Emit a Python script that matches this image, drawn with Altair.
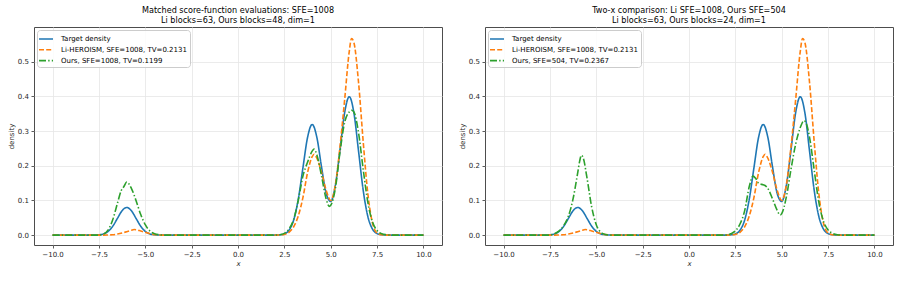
import altair as alt
import pandas as pd

FONT = "DejaVu Sans"

# ---- curve values (x, density) ----
target_x = [-10, -8.25, -8, -7.75, -7.5, -7.25, -7, -6.75, -6.5, -6.25, -6, -5.75, -5.5, -5.25, -5,
            -4.75, -4.5, -4.25, -4, 1.75, 2, 2.25, 2.5, 2.75, 3, 3.25, 3.5, 3.75, 4, 4.25, 4.5, 4.75,
            5, 5.25, 5.5, 5.75, 6, 6.25, 6.5, 6.75, 7, 7.25, 7.5, 7.75, 8, 8.25, 10]
target_y = [0, 0, 0.0000, 0.0002, 0.0009, 0.0035, 0.0108, 0.0259, 0.0484, 0.0704, 0.0798, 0.0704,
            0.0484, 0.0259, 0.0108, 0.0035, 0.0009, 0.0002, 0, 0, 0.0001, 0.0007, 0.0035, 0.0140,
            0.0432, 0.1036, 0.1935, 0.2815, 0.3191, 0.2824, 0.1979, 0.1211, 0.0972, 0.1436, 0.2455,
            0.3528, 0.3991, 0.3521, 0.2420, 0.1296, 0.0540, 0.0175, 0.0044, 0.0009, 0.0001, 0, 0]

li_x = [-10, -7.25, -7, -6.75, -6.5, -6.25, -6, -5.75, -5.6, -5.5, -5.25, -5, -4.75, -4.5, -4.25,
        -4, 2, 2.25, 2.5, 2.75, 3, 3.25, 3.5, 3.75, 4, 4.1, 4.25, 4.5, 4.75, 5, 5.25, 5.5, 5.75, 6,
        6.12, 6.25, 6.5, 6.75, 7, 7.25, 7.5, 7.75, 8, 10]
li_y = [0, 0, 0.0005, 0.001, 0.003, 0.006, 0.010, 0.014, 0.016, 0.0155, 0.012, 0.008, 0.004, 0.0015,
        0.0005, 0, 0, 0.0005, 0.002, 0.008, 0.024, 0.055, 0.108, 0.180, 0.226, 0.233, 0.222, 0.182,
        0.130, 0.100, 0.145, 0.255, 0.390, 0.530, 0.567, 0.555, 0.440, 0.270, 0.120, 0.035, 0.006,
        0.001, 0, 0]

ours48_x = [-10, -7.5, -7.25, -7, -6.75, -6.5, -6.3, -6.15, -6, -5.75, -5.5, -5.25, -5, -4.75, -4.5,
            -4.25, -4, 2, 2.25, 2.5, 2.75, 3, 3.25, 3.5, 3.75, 4, 4.1, 4.25, 4.5, 4.75, 4.92, 5, 5.25,
            5.5, 5.75, 6, 6.12, 6.25, 6.5, 6.75, 7, 7.25, 7.5, 7.75, 8, 8.25, 10]
ours48_y = [0, 0, 0.003, 0.015, 0.045, 0.092, 0.128, 0.140, 0.153, 0.135, 0.100, 0.060, 0.030, 0.012,
            0.004, 0.001, 0, 0, 0.001, 0.005, 0.018, 0.045, 0.100, 0.170, 0.210, 0.242, 0.248, 0.232,
            0.172, 0.105, 0.083, 0.086, 0.135, 0.240, 0.325, 0.355, 0.360, 0.355, 0.295, 0.190, 0.095,
            0.038, 0.013, 0.004, 0.001, 0, 0]

ours24_x = [-10, -7.5, -7.25, -7, -6.75, -6.5, -6.25, -6, -5.9, -5.8, -5.7, -5.5, -5.25, -5, -4.75,
            -4.5, -4.25, 2, 2.25, 2.5, 2.75, 3, 3.25, 3.45, 3.6, 3.75, 4, 4.1, 4.3, 4.5, 4.75, 4.92, 5,
            5.25, 5.5, 5.75, 6, 6.2, 6.35, 6.5, 6.75, 7, 7.25, 7.5, 7.75, 8, 8.25, 10]
ours24_y = [0, 0, 0.004, 0.012, 0.028, 0.055, 0.105, 0.180, 0.212, 0.230, 0.222, 0.165, 0.082, 0.030,
            0.008, 0.002, 0, 0, 0.004, 0.012, 0.032, 0.070, 0.140, 0.170, 0.163, 0.150, 0.145, 0.143,
            0.130, 0.105, 0.072, 0.058, 0.062, 0.110, 0.190, 0.262, 0.310, 0.330, 0.318, 0.282, 0.188,
            0.095, 0.040, 0.015, 0.005, 0.001, 0, 0]

TARGET_LABEL = "Target density"
LI_LABEL = "Li-HEROISM, SFE=1008, TV=0.2131"
OURS48_LABEL = "Ours, SFE=1008, TV=0.1199"
OURS24_LABEL = "Ours, SFE=504, TV=0.2367"

TITLE_LEFT = ["Matched score-function evaluations: SFE=1008", "Li blocks=63, Ours blocks=48, dim=1"]
TITLE_RIGHT = ["Two-x comparison: Li SFE=1008, Ours SFE=504", "Li blocks=63, Ours blocks=24, dim=1"]

x_ticks = [-10.0, -7.5, -5.0, -2.5, 0.0, 2.5, 5.0, 7.5, 10.0]
y_ticks = [0.0, 0.1, 0.2, 0.3, 0.4, 0.5]

COLORS = ["#1f77b4", "#ff7f0e", "#2ca02c"]
DASHES = [[1, 0], [5, 2.2], [7, 2.2, 1.4, 2.2]]

# horizontal legend stroke, longer than the symbol box it is laid out in
LEGEND_STROKE = "M-1.4,0L1.4,0"


def panel(title_lines, ours_label, ours_x, ours_y):
    rows = []
    for name, xs, ys in [(TARGET_LABEL, target_x, target_y),
                         (LI_LABEL, li_x, li_y),
                         (ours_label, ours_x, ours_y)]:
        rows += [{"x": a, "density": b, "series": name} for a, b in zip(xs, ys)]
    df = pd.DataFrame(rows)
    labels = [TARGET_LABEL, LI_LABEL, ours_label]
    legend = alt.Legend(
        title=None, orient="top-left", offset=3, padding=3,
        fillColor="rgba(255,255,255,0.85)", strokeColor="#cccccc", cornerRadius=3,
        symbolType=LEGEND_STROKE, symbolSize=100, symbolStrokeWidth=1.6,
        labelFont=FONT, labelFontSize=7, labelColor="#000000", labelOffset=9,
        rowPadding=0.8,
    )
    return alt.Chart(df).mark_line(strokeWidth=1.6, interpolate="monotone", clip=True).encode(
        x=alt.X("x:Q", scale=alt.Scale(domain=[-11, 11], nice=False, zero=False),
                axis=alt.Axis(values=x_ticks, format=".1f", title="x", titleFontStyle="italic",
                              titlePadding=1.5)),
        y=alt.Y("density:Q", scale=alt.Scale(domain=[-0.0285, 0.6], nice=False, zero=False),
                axis=alt.Axis(values=y_ticks, format=".1f", title="density")),
        color=alt.Color("series:N", scale=alt.Scale(domain=labels, range=COLORS), legend=legend),
        strokeDash=alt.StrokeDash("series:N", scale=alt.Scale(domain=labels, range=DASHES), legend=legend),
    ).properties(width=408, height=218, title=alt.TitleParams(text=title_lines))


left = panel(TITLE_LEFT, OURS48_LABEL, ours48_x, ours48_y)
right = panel(TITLE_RIGHT, OURS24_LABEL, ours24_x, ours24_y)

chart = alt.hconcat(left, right, spacing=14).resolve_scale(
    color="independent", strokeDash="independent"
).resolve_legend(
    color="independent", strokeDash="independent"
).properties(
    padding={"left": 6, "top": 6, "right": 0, "bottom": 0},
    background="white",
).configure_view(
    stroke="#4d4d4d", strokeWidth=1
).configure_axis(
    grid=True, gridColor="#e6e6e6", gridWidth=0.8, domain=False,
    tickColor="#333333", tickSize=3, tickWidth=0.8,
    labelFont=FONT, labelFontSize=7, labelColor="#262626", labelPadding=2.5,
    titleFont=FONT, titleFontSize=7, titleFontWeight="normal", titleColor="#262626",
    titlePadding=3,
).configure_title(
    font=FONT, fontSize=8.1, fontWeight="normal", anchor="middle", color="#000000",
    lineHeight=10, offset=2,
)

chart.save("out.html", embed_options={"renderer": "svg", "actions": False})
